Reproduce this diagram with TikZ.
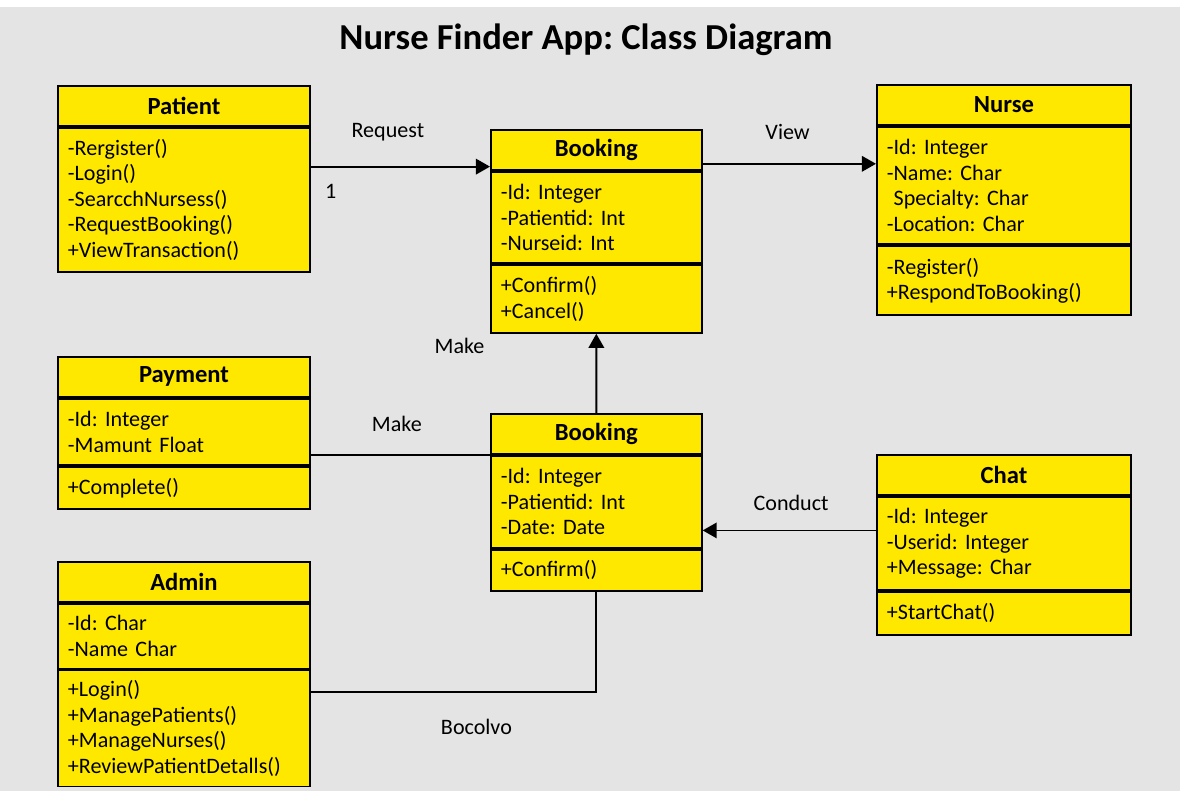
\documentclass[tikz,border=0pt]{standalone}
\usepackage{fontspec}
\setmainfont{Carlito}
\usetikzlibrary{arrows.meta,positioning}
\definecolor{bggray}{RGB}{228,228,228}
\definecolor{classyellow}{RGB}{255,232,0}
\newcommand{\bodyfont}{\fontsize{15.7}{18.2}\selectfont\frenchspacing}
\newcommand{\headfont}{\fontsize{17.5}{20}\selectfont\bfseries}

\begin{document}
\begin{tikzpicture}[x=0.025cm, y=-0.025cm,
	classhead/.style={draw, fill=classyellow, line width=1.3pt, anchor=north west, minimum width=#1, minimum height=1cm, inner sep=0pt, font=\headfont},
	classpart/.style={draw, fill=classyellow, line width=1.3pt, anchor=north west, text width=#1, inner xsep=0.25cm, inner ysep=0pt, align=left, font=\bodyfont},
	assoc/.style={line width=1.3pt},
	arr/.style={assoc, -{Triangle[length=10pt, width=11pt]}},
	lbl/.style={font=\bodyfont}]
	\useasboundingbox (0,0) rectangle (1180,791);
	\fill[white] (0,0) rectangle (1180,791);
	\fill[bggray] (0,7) rectangle (1180,791);
	\draw (586,40) node[font=\fontsize{26}{30}\selectfont\bfseries\frenchspacing](title) {Nurse Finder App: Class Diagram};
	% Patient
	\draw (57,85) node[classhead=6.3cm](pathead) {Patient};
	\draw (pathead.south west) node[classpart=5.8cm, minimum height=3.6cm](patops) {-Rergister()\\-Login()\\-SearcchNursess()\\-RequestBooking()\\+ViewTransaction()};
	% Booking (top)
	\draw (490,129) node[classhead=5.27cm](bkthead) {Booking};
	\draw (bkthead.south west) node[classpart=4.77cm, minimum height=2.29cm](bktattrs) {-Id: Integer\\-Patientid: Int\\-Nurseid: Int};
	\draw (bktattrs.south west) node[classpart=4.77cm, minimum height=1.69cm](bktops) {+Confirm()\\+Cancel()};
	% Nurse
	\draw (876,84) node[classhead=6.35cm](nurhead) {Nurse};
	\draw (nurhead.south west) node[classpart=5.85cm, minimum height=2.94cm](nurattrs) {-Id: Integer\\-Name: Char\\\hphantom{-}Specialty: Char\\-Location: Char};
	\draw (nurattrs.south west) node[classpart=5.85cm, minimum height=1.72cm](nurops) {-Register()\\+RespondToBooking()};
	% Payment
	\draw (57,356) node[classhead=6.3cm](payhead) {Payment};
	\draw (payhead.south west) node[classpart=5.8cm, minimum height=1.65cm](payattrs) {-Id: Integer\\-Mamunt Float};
	\draw (payattrs.south west) node[classpart=5.8cm, minimum height=1.06cm](payops) {+Complete()};
	% Booking (middle)
	\draw (490,413) node[classhead=5.27cm](bkmhead) {Booking};
	\draw (bkmhead.south west) node[classpart=4.77cm, minimum height=2.3cm](bkmattrs) {-Id: Integer\\-Patientid: Int\\-Date: Date};
	\draw (bkmattrs.south west) node[classpart=4.77cm, minimum height=1.04cm](bkmops) {+Confirm()};
	% Chat
	\draw (876,454) node[classhead=6.35cm](chathead) {Chat};
	\draw (chathead.south west) node[classpart=5.85cm, minimum height=2.33cm](chatattrs) {-Id: Integer\\-Userid: Integer\\+Message: Char};
	\draw (chatattrs.south west) node[classpart=5.85cm, minimum height=1.07cm](chatops) {+StartChat()};
	% Admin
	\draw (57,561) node[classhead=6.3cm](admhead) {Admin};
	\draw (admhead.south west) node[classpart=5.8cm, minimum height=1.62cm](admattrs) {-Id: Char\\-Name Char};
	\draw (admattrs.south west) node[classpart=5.8cm, minimum height=2.9cm](admops) {+Login()\\+ManagePatients()\\+ManageNurses()\\+ReviewPatientDetalls()};
	% associations
	\draw[arr] ([yshift=3pt]patops.east |- bkthead.south) -- node[lbl, pos=0.43, yshift=0.85cm] {Request} node[lbl, pos=0.11, yshift=-0.62cm] {1} ([yshift=3pt]bkthead.south west);
	\draw[arr] ([yshift=5pt]bkthead.south east) -- node[lbl, pos=0.49, yshift=0.8cm] {View} ([yshift=5pt]bkthead.south east -| nurattrs.west);
	\draw[arr] (bkmhead.north) -- node[lbl, pos=0.85, xshift=-3.42cm] {Make} (bktops.south);
	\draw[assoc] (payattrs.east |- bkmhead.south) -- node[lbl, pos=0.48, yshift=0.78cm] {Make} (bkmhead.south west);
	\draw[arr] ([yshift=13pt]chatattrs.west |- bkmattrs.south) -- node[lbl, pos=0.49, yshift=0.68cm] {Conduct} ([yshift=13pt]bkmattrs.south east);
	\draw[assoc] ([yshift=-16pt]admops.north east) -| node[lbl, pos=0.29, yshift=-0.87cm] {Bocolvo} (bkmops.south);
\end{tikzpicture}
\end{document}
